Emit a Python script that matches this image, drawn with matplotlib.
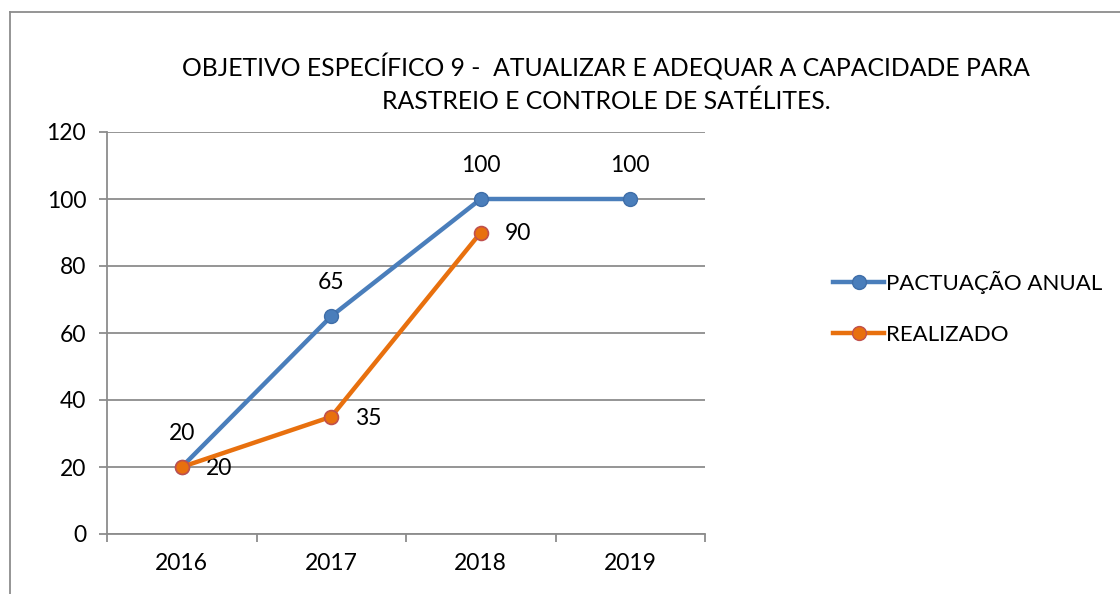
import matplotlib.pyplot as plt
from matplotlib.lines import Line2D

years = ['2016', '2017', '2018', '2019']
pactuacao = [20, 65, 100, 100]
realizado = [20, 35, 90]
yticks = [0, 20, 40, 60, 80, 100, 120]

plt.rcParams['font.family'] = ['Lato', 'DejaVu Sans']

blue = '#4A7EBB'
orange = '#E8700E'
grid = '#8C8C8C'
fs = 16.5

fig = plt.figure(figsize=(11.2, 5.94), dpi=100)
ax = fig.add_axes([107 / 1120, 1 - 534 / 594, 598 / 1120, 402 / 594])

x_p = list(range(len(pactuacao)))
x_r = list(range(len(realizado)))

ax.plot(x_p, pactuacao, color=blue, lw=3.2, marker='o', ms=10,
        mfc=blue, mec='#3F6EA8', mew=1, zorder=3, solid_capstyle='round')
ax.plot(x_r, realizado, color=orange, lw=3.2, marker='o', ms=10,
        mfc=orange, mec='#C0504D', mew=1.2, zorder=4, solid_capstyle='round')

for x, v in zip(x_p, pactuacao):
    ax.annotate(str(v), (x, v), xytext=(0, 24), textcoords='offset points',
                ha='center', va='center', fontsize=fs)
for x, v in zip(x_r, realizado):
    ax.annotate(str(v), (x, v), xytext=(27, -1), textcoords='offset points',
                ha='center', va='center', fontsize=fs)

ax.set_xlim(-0.5, 3.5)
ax.set_ylim(0, 120)
ax.set_yticks(yticks)
ax.set_yticklabels([str(t) for t in yticks], fontsize=fs)
ax.set_xticks(x_p)
ax.set_xticklabels(years, fontsize=fs)
ax.set_xticks([-0.5, 0.5, 1.5, 2.5, 3.5], minor=True)
ax.tick_params(axis='x', which='major', length=0, pad=14)
ax.tick_params(axis='x', which='minor', length=6, width=1.3, color=grid, direction='out')
ax.tick_params(axis='y', length=6, width=1.3, color=grid, pad=9)

ax.yaxis.grid(True, color=grid, lw=1.3)
ax.set_axisbelow(True)
for s in ['top', 'right']:
    ax.spines[s].set_visible(False)
for s in ['left', 'bottom']:
    ax.spines[s].set_color(grid)
    ax.spines[s].set_linewidth(1.3)

fig.text(606 / 1120, 1 - 67 / 594, 'OBJETIVO ESPECÍFICO 9 -  ATUALIZAR E ADEQUAR A CAPACIDADE PARA',
         ha='center', va='center', fontsize=17.8)
fig.text(606 / 1120, 1 - 101 / 594, 'RASTREIO E CONTROLE DE SATÉLITES.',
         ha='center', va='center', fontsize=17.8)

handles = [
    Line2D([], [], color=blue, lw=3.2, marker='o', ms=10, mfc=blue, mec='#3F6EA8'),
    Line2D([], [], color=orange, lw=3.2, marker='o', ms=10, mfc=orange, mec='#C0504D'),
]
fig.legend(handles, ['PACTUAÇÃO ANUAL', 'REALIZADO'], loc='center left',
           bbox_to_anchor=(822 / 1120, 1 - 308 / 594), frameon=False, fontsize=16,
           handlelength=2.3, handletextpad=0.08, labelspacing=1.4, borderpad=0)

# chart border (left and top edges visible)
fig.add_artist(Line2D([10 / 1120, 10 / 1120], [0, 1 - 12 / 594], transform=fig.transFigure,
                      color='#8C8C8C', lw=1.3))
fig.add_artist(Line2D([10 / 1120, 1], [1 - 12 / 594, 1 - 12 / 594], transform=fig.transFigure,
                      color='#8C8C8C', lw=1.3))

fig.savefig('out.png', dpi=100, facecolor='white')
